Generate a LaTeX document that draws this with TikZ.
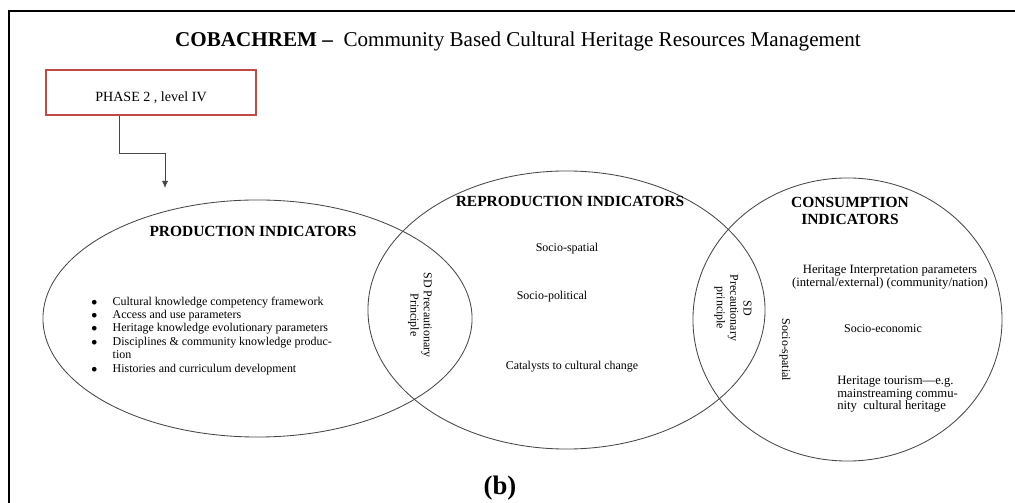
\documentclass[tikz,border=0pt]{standalone}
\usepackage{fontspec}
\setmainfont{Liberation Serif}
\usetikzlibrary{arrows.meta,shapes.geometric}

\definecolor{phasered}{RGB}{190,75,72}
\definecolor{linegray}{RGB}{70,70,70}

\tikzset{
  indicator/.style={ellipse, draw=linegray, line width=0.6pt, inner sep=0pt},
  heading/.style={font=\fontsize{11}{11.5}\selectfont\bfseries, align=center, inner sep=0pt},
  small/.style={font=\fontsize{8.5}{9.5}\selectfont, align=center, inner sep=0pt},
  medium/.style={font=\fontsize{9}{9}\selectfont, align=center, inner sep=0pt},
  phasebox/.style={draw=phasered, line width=0.8pt, minimum width=5.25cm, minimum height=1.125cm,
    font=\fontsize{10}{12}\selectfont, text height=13pt, text depth=0pt},
}

\begin{document}
\begin{tikzpicture}[x=0.025cm, y=-0.025cm, >={Latex[length=5pt,width=4.5pt]}]

\useasboundingbox (0,0) rectangle (1015,503);

\coordinate (elbow) at (119,153);
\coordinate (tip) at (165,188);

\draw[line width=1.6pt] (9,503) -- (9,11) -- (1015,11);

\node[font=\fontsize{15}{18}\selectfont, inner sep=0pt] (title) at (518,41)
  {\textbf{COBACHREM --}\ \ Community Based Cultural Heritage Resources Management};

\node[phasebox] (phase) at (151,92.5) {PHASE 2 , level IV};
\draw[->,linegray,line width=0.7pt] (phase.south -| elbow) -- (elbow) -| (tip);

% the three circles
\node[indicator, minimum width=10.725cm, minimum height=5.925cm] (prod) at (257.5,318.5) {};
\node[indicator, minimum width=9.925cm, minimum height=6.95cm] (repro) at (566.5,310) {};
\node[indicator, minimum width=7.725cm, minimum height=7.075cm] (cons) at (847.5,319.5) {};

\node[heading] (prodhead) at (253,231) {PRODUCTION INDICATORS};
\node[heading] (reprohead) at (570,201) {REPRODUCTION INDICATORS};
\node[heading] (conshead) at (850,211) {CONSUMPTION\\INDICATORS};

\node[small, anchor=west] (prodlist) at (91,336) {\begin{tabular}{@{}l@{\hspace{11pt}}l@{}}
$\bullet$ & Cultural knowledge competency framework\\
$\bullet$ & Access and use parameters\\
$\bullet$ & Heritage knowledge evolutionary parameters\\
$\bullet$ & Disciplines \& community knowledge produc-\\
 & tion\\
$\bullet$ & Histories and curriculum development
\end{tabular}};

\node[small, rotate=-90] (sdleft) at (420,315) {SD Precautionary\\Principle};
\node[small, rotate=-90] (sdright) at (733,308) {SD\\Precautionary\\principle};

\node[small] (spatial) at (567,249) {Socio-spatial};
\node[small] (political) at (552,297) {Socio-political};
\node[small] (catalysts) at (572,367) {Catalysts to cultural change};

\node[small, rotate=-90] (spatialb) at (785,350) {Socio-spatial};
\node[medium] (interp) at (890,277) {Heritage Interpretation parameters\\(internal/external) (community/nation)};
\node[small] (economic) at (883,329) {Socio-economic};
\node[medium, anchor=west, align=left] (tourism) at (837,394.5)
  {Heritage tourism---e.g.\\mainstreaming commu-\\nity\ \ cultural heritage};

\node[font=\fontsize{19}{22}\selectfont\bfseries, anchor=base, inner sep=0pt] (fig) at (500,495) {(b)};

\end{tikzpicture}
\end{document}
